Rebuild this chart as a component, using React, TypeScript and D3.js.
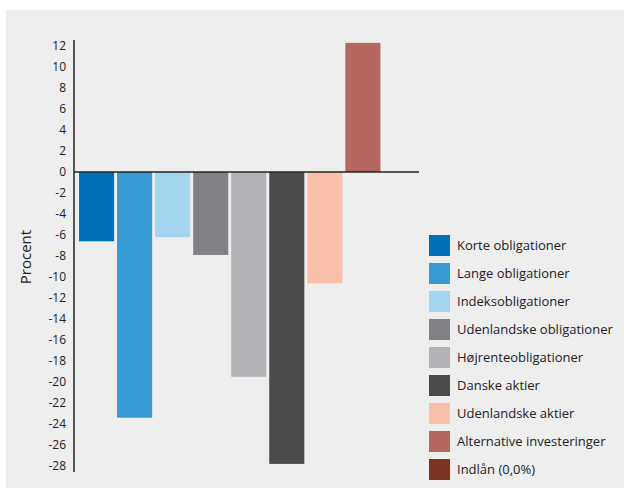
import * as d3 from 'd3';
import React from 'react';

// data
const categories = [
  'Korte obligationer',
  'Lange obligationer',
  'Indeksobligationer',
  'Udenlandske obligationer',
  'Højrenteobligationer',
  'Danske aktier',
  'Udenlandske aktier',
  'Alternative investeringer',
  'Indlån (0,0%)',
];
const values = [-6.6, -23.4, -6.2, -7.9, -19.5, -27.8, -10.6, 12.3, 0];
const colors = ['#0070b8', '#369bd5', '#a3d4f0', '#808184', '#b2b3b6', '#4a4b4d', '#f9bfa8', '#b5665e', '#7e3320'];
const yTicks = d3.range(-28, 13, 2);

const W = 624;
const H = 488;
const font = "'Open Sans', 'Noto Sans', sans-serif";

const App = () => {
  const x = d3.scaleBand<string>()
    .domain(categories)
    .range([77.5, 420])
    .paddingInner(0.078)
    .paddingOuter(0.04);

  const y = d3.scaleLinear()
    .domain([-28.5, 12.5])
    .range([471.25, 40.75]);

  const axisX = 74;

  return (
    <svg width={W} height={H} style={{ position: 'absolute', left: 0, top: 0, fontFamily: font }}>
      <rect x={0} y={0} width={W} height={H} fill="#ffffff" />
      <rect x={6} y={10} width={W - 6} height={H - 10} fill="#eeeeee" />

      {/* bars */}
      {categories.map((c, i) => (
        <rect
          key={c}
          x={x(c)}
          y={y(Math.max(0, values[i]))}
          width={x.bandwidth()}
          height={Math.abs(y(values[i]) - y(0))}
          fill={colors[i]}
        />
      ))}

      {/* y axis */}
      <line x1={axisX} x2={axisX} y1={y(12.57)} y2={y(-28.57)} stroke="#222" strokeWidth={1.5} />
      {yTicks.map(t => (
        <text key={t} x={66} y={y(t)} dy="0.35em" textAnchor="end" fontSize={12} fill="#222">
          {t}
        </text>
      ))}
      <line x1={axisX} x2={419} y1={y(0)} y2={y(0)} stroke="#222" strokeWidth={1.5} />

      <text
        transform={`translate(31,257) rotate(-90)`}
        textAnchor="middle"
        fontSize={15}
        fill="#222"
      >
        Procent
      </text>

      {/* legend */}
      {categories.map((c, i) => (
        <g key={c} transform={`translate(429,${235 + i * 28})`}>
          <rect width={21} height={21} fill={colors[i]} />
          <text x={28} y={10.5} dy="0.35em" fontSize={13} fill="#222">{c}</text>
        </g>
      ))}
    </svg>
  );
};

export default App;
